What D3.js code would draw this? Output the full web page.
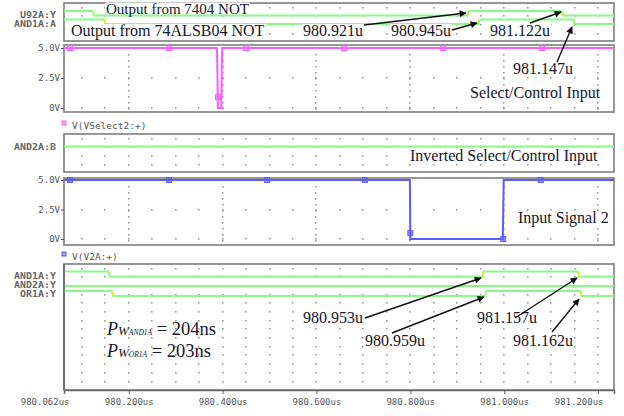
<!DOCTYPE html>
<html><head><meta charset="utf-8">
<script src="https://cdn.jsdelivr.net/npm/d3@7"></script>
<style>body{margin:0;background:#fff}svg{display:block}</style>
</head><body><svg id="c" width="624" height="416"></svg>
<script>
// ---------- data ----------
const timeDomain = [980.062, 981.234];
const tickTimes  = [980.062, 980.2, 980.4, 980.6, 980.8, 981.0, 981.2];
const tickLabels = ["980.062us","980.200us","980.400us","980.600us","980.800us","981.000us","981.200us"];
const voltTicks  = [0, 2.5, 5];
const voltLabels = ["0V","2.5V","5.0V"];

// digital signals: start level + transition times (us)
const u92aYStart = 1,   u92aYTrans   = [980.123, 980.921, 981.122];
const and1aAStart = 1,  and1aATrans  = [980.147, 980.945, 981.147];
const and2aBStart = 1,  and2aBTrans  = [];
const and1aYStart = 1,  and1aYTrans  = [980.157, 980.953, 981.157];
const and2aYStart = 1,  and2aYTrans  = [];
const or1aYStart = 1,   or1aYTrans   = [980.164, 980.959, 981.162];

// analog signals
const selTimes = [980.062, 980.388, 980.390, 980.397, 980.399, 981.234];
const selVolts = [5, 5, 0, 0, 5, 5];
const selMarkTimes = [980.075, 980.286, 980.390, 980.450, 980.659, 980.870, 981.081];
const selMarkVolts = [5, 5, 0.9, 5, 5, 5, 5];
const v2Times = [980.062, 980.799, 980.800, 980.997, 980.999, 981.234];
const v2Volts = [5, 5, 0, 0, 5, 5];
const v2MarkTimes = [980.075, 980.286, 980.495, 980.703, 980.800, 980.998, 981.078];
const v2MarkVolts = [5, 5, 5, 5, 0.5, 0, 5];

// ---------- drawing ----------
const svg = d3.select("#c");
const X0 = 64, X1 = 614;
const x = d3.scaleLinear().domain(timeDomain).range([X0, X1]);
const GREEN = "#86fb86", PINK = "#ff5cff", BLUE = "#5a5cff", GRID = "#9a9a9a", BORDER = "#8c8c8c";
const MONO = "'DejaVu Sans Mono', monospace", SERIF = "'Liberation Serif', 'Times New Roman', serif";
const INK = "#15152a";

const minorTimes = d3.range(0, 23).map(i => 980.1 + i * 0.05);
const majorTimes = tickTimes.slice(1);

function dot(g, cx, cy) {
  g.append("rect").attr("x", Math.round(cx) - 1).attr("y", Math.round(cy) - 1).attr("width", 1.6).attr("height", 1.6).attr("fill", GRID);
}

function digitalPanel(top, bottom) {
  const g = svg.append("g");
  const rows = [];
  for (let y = top + 4.5; y < bottom - 2; y += 8.7) rows.push(y);
  minorTimes.forEach(t => rows.forEach(r => dot(g, x(t), r)));
  return g;
}

function analogPanel(top, bottom, y) {
  const g = svg.append("g");
  minorTimes.forEach(t => [2.5, 0].forEach(v => dot(g, x(t), y(v))));
  majorTimes.forEach(t => { for (let yy = y(5) + 7; yy <= bottom - 3; yy += 6) dot(g, x(t), yy); });
  return g;
}

function border(top, bottom) {
  svg.append("rect").attr("x", X0).attr("y", top).attr("width", X1 - X0).attr("height", bottom - top)
    .attr("fill", "none").attr("stroke", BORDER).attr("stroke-width", 1.8);
}

function digitalSignal(start, trans, hi, lo) {
  const pts = [];
  let lvl = start;
  let yy = lvl ? hi : lo;
  pts.push([x(timeDomain[0]), yy]);
  trans.forEach(t => {
    pts.push([x(t), yy]);
    lvl = 1 - lvl; yy = lvl ? hi : lo;
    pts.push([x(t) + 1.5, yy]);
  });
  pts.push([x(timeDomain[1]), yy]);
  svg.append("path").attr("d", d3.line()(pts)).attr("fill", "none").attr("stroke", GREEN).attr("stroke-width", 2);
  trans.forEach(t => {
    svg.append("line").attr("x1", x(t) + 0.7).attr("x2", x(t) + 0.7).attr("y1", hi).attr("y2", lo)
      .attr("stroke", "#e8f000").attr("stroke-width", 1.2);
  });
}

function chanLabel(txt, yb) {
  svg.append("text").attr("x", 56).attr("y", yb).attr("text-anchor", "end")
    .attr("font-family", MONO).attr("font-size", 8).attr("font-weight", "bold").attr("fill", "#666")
    .attr("textLength", txt.length * 6).attr("lengthAdjust", "spacingAndGlyphs").text(txt);
}

function analogSignal(times, volts, mTimes, mVolts, y, color) {
  const pts = times.map((t, i) => [x(t), y(volts[i])]);
  svg.append("path").attr("d", d3.line()(pts)).attr("fill", "none").attr("stroke", color).attr("stroke-width", 2);
  mTimes.forEach((t, i) => {
    svg.append("rect").attr("x", x(t) - 2.5).attr("y", y(mVolts[i]) - 2.5).attr("width", 5).attr("height", 5)
      .attr("fill", color).attr("fill-opacity", 0.6).attr("stroke", color).attr("stroke-width", 1);
  });
}

function voltAxis(y) {
  const ax = d3.axisLeft(y).tickValues(voltTicks).tickFormat((d, i) => voltLabels[i]).tickSize(3).tickPadding(1);
  const g = svg.append("g").attr("transform", `translate(${X0},0)`).call(ax);
  g.select(".domain").remove();
  g.selectAll("text").attr("font-family", MONO).attr("font-size", 9).attr("fill", "#555");
  g.selectAll("line").attr("stroke", "#555");
}

function legend(txt, color, yb) {
  svg.append("rect").attr("x", 62).attr("y", yb - 8).attr("width", 4).attr("height", 4)
    .attr("fill", color).attr("fill-opacity", 0.6).attr("stroke", color);
  svg.append("text").attr("x", 72).attr("y", yb).attr("font-family", MONO).attr("font-size", 9.5)
    .attr("fill", "#555").text(txt);
}

// Panel 1 -------------------------------------------------
digitalPanel(3, 41);
border(3, 41);
digitalSignal(u92aYStart, u92aYTrans, 11, 15.5);
digitalSignal(and1aAStart, and1aATrans, 19.5, 24);
chanLabel("U92A:Y", 18);
chanLabel("AND1A:A", 26.5);

// Panel 2 -------------------------------------------------
const ySel = d3.scaleLinear().domain([0, 5]).range([108, 48]);
analogPanel(45, 112, ySel);
border(45, 112);
voltAxis(ySel);
analogSignal(selTimes, selVolts, selMarkTimes, selMarkVolts, ySel, PINK);
legend("V(VSelect2:+)", PINK, 129);

// Panel 3 -------------------------------------------------
digitalPanel(134, 172);
border(134, 172);
digitalSignal(and2aBStart, and2aBTrans, 146.5, 151);
chanLabel("AND2A:B", 150);

// Panel 4 -------------------------------------------------
const yV2 = d3.scaleLinear().domain([0, 5]).range([239, 180]);
analogPanel(178, 245, yV2);
border(178, 245);
voltAxis(yV2);
analogSignal(v2Times, v2Volts, v2MarkTimes, v2MarkVolts, yV2, BLUE);
legend("V(V2A:+)", BLUE, 260);

// Panel 5 -------------------------------------------------
digitalPanel(264, 390);
border(264, 390);
digitalSignal(and1aYStart, and1aYTrans, 271.5, 276.5);
digitalSignal(and2aYStart, and2aYTrans, 286, 290);
digitalSignal(or1aYStart, or1aYTrans, 291, 296);
chanLabel("AND1A:Y", 278.5);
chanLabel("AND2A:Y", 287.5);
chanLabel("OR1A:Y", 296.5);

// time axis
const xAx = d3.axisBottom(x).tickValues(tickTimes).tickFormat((d, i) => tickLabels[i]).tickSize(4).tickPadding(5);
const xg = svg.append("g").attr("transform", "translate(0,390)").call(xAx);
xg.select(".domain").attr("stroke", "#666").attr("stroke-width", 1.5);
xg.selectAll("line").attr("stroke", "#666");
xg.selectAll("text").attr("font-family", MONO).attr("font-size", 9).attr("fill", "#555");
xg.selectAll(".tick").filter((d, i) => i === 0).select("line").remove();
xg.selectAll(".tick").filter((d, i) => i === 0).select("text").attr("text-anchor", "end").attr("dx", 5);
xg.selectAll(".tick").filter((d, i) => i === tickTimes.length - 1).select("text").attr("text-anchor", "end").attr("dx", 5);
svg.append("line").attr("x1", X0).attr("x2", X0).attr("y1", 264).attr("y2", 390).attr("stroke", "#666").attr("stroke-width", 1.5);

// ---------- annotations ----------
svg.append("defs").append("marker").attr("id", "ah").attr("viewBox", "0 0 10 10").attr("refX", 9).attr("refY", 5)
  .attr("markerWidth", 10).attr("markerHeight", 7).attr("markerUnits", "userSpaceOnUse").attr("orient", "auto")
  .append("path").attr("d", "M0,0 L10,5 L0,10 z").attr("fill", "#111");

function note(txt, xx, yb, size, bg) {
  const t = svg.append("text").attr("x", xx).attr("y", yb).attr("font-family", SERIF).attr("font-size", size || 16)
    .attr("fill", INK).text(txt);
  if (bg) {
    const b = t.node().getBBox();
    const top = Math.max(0, b.y + 2);
    const h = (bg === "top") ? (yb - 1.5 - top) : (b.height - 4);
    svg.insert("rect", () => t.node()).attr("x", b.x - 1).attr("y", top).attr("width", b.width + 2)
      .attr("height", h).attr("fill", "#fff");
  }
}
function arrow(x1, y1, x2, y2) {
  svg.append("line").attr("x1", x1).attr("y1", y1).attr("x2", x2).attr("y2", y2)
    .attr("stroke", "#111").attr("stroke-width", 1.4).attr("marker-end", "url(#ah)");
}

note("Output from 7404 NOT", 106, 13.5, 15, "top");
note("Output from 74ALSB04 NOT", 71, 36, 16, true);
note("980.921u", 303, 36, 16, true);
note("980.945u", 391, 36, 16, true);
note("981.122u", 490, 36, 16, true);
note("981.147u", 513, 74, 16, true);
note("Select/Control Input", 470, 98, 16, true);
arrow(364, 25, 466, 13);
arrow(452, 30, 477, 23);
arrow(530, 23, 561, 12);
arrow(557, 62, 572, 27);

note("Inverted Select/Control Input", 410, 161, 16, true);
note("Input Signal 2", 518, 223, 16, true);

note("980.953u", 303, 323, 16, true);
note("980.959u", 365, 346, 16, true);
note("981.157u", 477, 323, 16, true);
note("981.162u", 513, 346, 16, true);
arrow(365, 318, 481, 278);
arrow(392, 333, 484, 297);
arrow(515, 318, 577, 278);
arrow(552, 332, 579, 299);

function pw(sub, val, yb) {
  const t = svg.append("text").attr("x", 107).attr("y", yb).attr("font-family", SERIF).attr("fill", INK);
  t.append("tspan").attr("font-size", 18).attr("font-style", "italic").text("P");
  t.append("tspan").attr("font-size", 13).attr("font-style", "italic").text("W");
  t.append("tspan").attr("font-size", 7.5).attr("font-style", "italic").text(sub);
  t.append("tspan").attr("font-size", 18.5).text(" = " + val);
}
pw("AND1A", "204ns", 335);
pw("OR1A", "203ns", 357);
</script></body></html>
